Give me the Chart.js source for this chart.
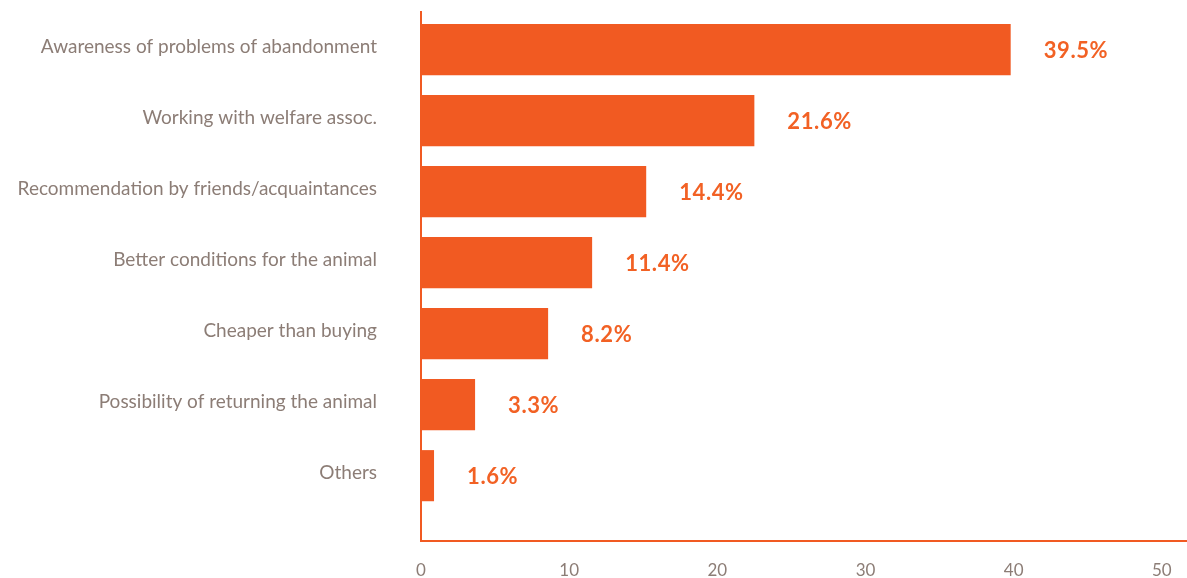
<!DOCTYPE html>
<html>
<head>
<meta charset="utf-8">
<script src="https://cdn.jsdelivr.net/npm/chart.js@4"></script>
<style>
html,body{margin:0;padding:0;background:#fff;}
#wrap{width:1187px;height:578px;position:relative;}
</style>
</head>
<body>
<div id="wrap"><canvas id="c"></canvas></div>
<script>
const categories = [
  "Awareness of problems of abandonment",
  "Working with welfare assoc.",
  "Recommendation by friends/acquaintances",
  "Better conditions for the animal",
  "Cheaper than buying",
  "Possibility of returning the animal",
  "Others"
];
const barValues = [39.8, 22.5, 15.2, 11.55, 8.58, 3.65, 0.88];
const valueLabels = ["39.5%", "21.6%", "14.4%", "11.4%", "8.2%", "3.3%", "1.6%"];
const xTicks = [0, 10, 20, 30, 40, 50];

const ORANGE = '#f15a22';
const TEXT = '#8c7d76';

const valueLabelPlugin = {
  id: 'valueLabels',
  afterDatasetsDraw(chart) {
    const ctx = chart.ctx;
    const meta = chart.getDatasetMeta(0);
    ctx.save();
    ctx.font = 'bold 22px Lato';
    try { ctx.letterSpacing = '0.6px'; } catch (e) {}
    ctx.fillStyle = '#f26124';
    ctx.textAlign = 'left';
    ctx.textBaseline = 'middle';
    meta.data.forEach((bar, i) => {
      ctx.fillText(valueLabels[i], bar.x + 33, bar.y + 1);
    });
    ctx.restore();
  }
};

new Chart(document.getElementById('c'), {
  type: 'bar',
  data: {
    datasets: [{
      data: barValues.map((v, i) => ({x: v, y: i})),
      backgroundColor: ORANGE,
      borderWidth: 0,
      barPercentage: 0.9,
      categoryPercentage: 0.8
    }]
  },
  options: {
    indexAxis: 'y',
    responsive: true,
    maintainAspectRatio: false,
    animation: false,
    layout: {padding: {top: 12, right: 0, left: 0, bottom: 0}},
    plugins: {legend: {display: false}, tooltip: {enabled: false}},
    scales: {
      x: {
        type: 'linear',
        min: 0,
        max: 51.7,
        offset: false,
        afterBuildTicks(scale) { scale.ticks = xTicks.map(v => ({value: v})); },
        afterFit(scale) { scale.height = 37; scale.paddingLeft = 0; scale.paddingRight = 0; },
        grid: {display: false, drawTicks: false},
        border: {display: true, color: ORANGE, width: 2},
        ticks: {color: TEXT, font: {family: 'Lato', size: 17}, padding: 19, maxRotation: 0}
      },
      y: {
        type: 'linear',
        reverse: true,
        min: -0.53,
        max: 6.92,
        offset: false,
        afterBuildTicks(scale) { scale.ticks = categories.map((c, i) => ({value: i})); },
        afterFit(scale) { scale.width = 421; scale.paddingTop = 0; scale.paddingBottom = 0; },
        grid: {display: false, drawTicks: false},
        border: {display: true, color: ORANGE, width: 2},
        ticks: {
          color: TEXT,
          font: {family: 'Lato', size: 19},
          padding: 44,
          labelOffset: -3,
          callback: (v) => categories[v]
        }
      }
    }
  },
  plugins: [valueLabelPlugin]
});
</script>
</body>
</html>
